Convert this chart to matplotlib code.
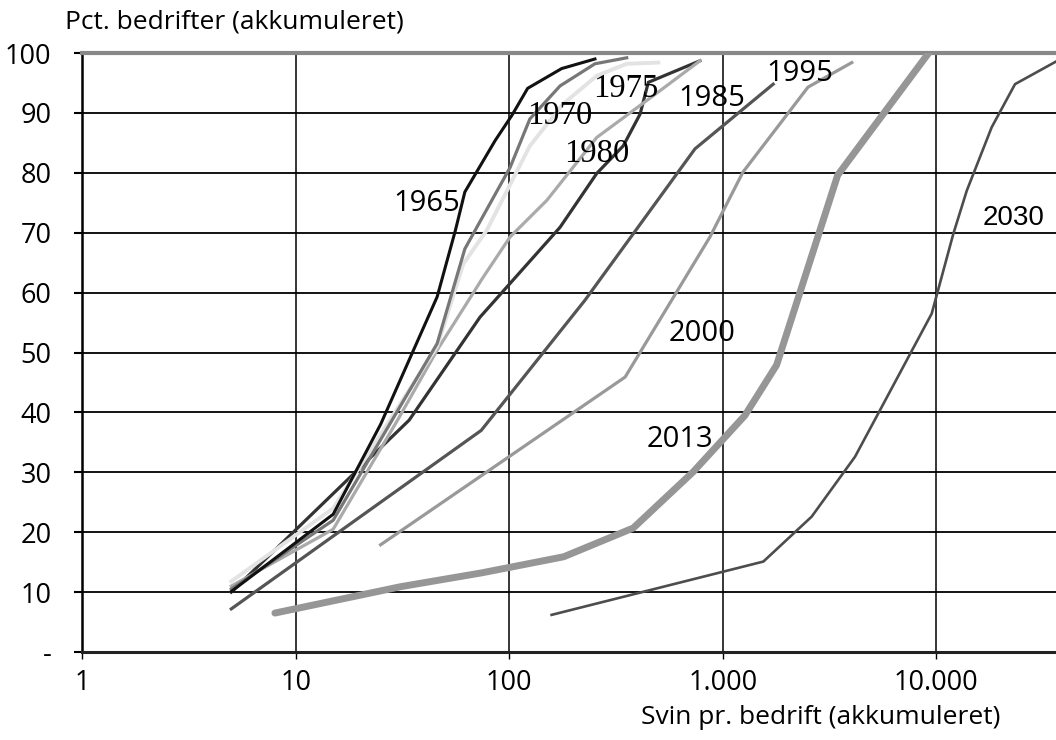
import matplotlib
matplotlib.use('Agg')
import matplotlib.pyplot as plt

# kurver: svin pr. bedrift (x) mod akkumuleret pct. bedrifter (y)
x_1965 = [5, 15, 25, 46, 56, 62, 86, 103, 122, 176, 252]
y_1965 = [10.1, 23, 38, 59.3, 70.4, 76.8, 85.4, 89.6, 94.1, 97.4, 99.0]

x_1970 = [5, 15, 46, 62, 101, 125, 173, 252, 355]
y_1970 = [10.5, 22, 51.5, 67.3, 80.9, 89, 94.5, 98.2, 99.2]

x_1975 = [5, 15, 46, 61, 78.5, 125, 179, 257, 355, 499]
y_1975 = [11.8, 24, 51, 64.8, 70.4, 84.5, 91.5, 96.2, 98.2, 98.4]

x_1980a = [5, 15, 30, 46, 75, 101, 150, 257, 508, 782]
y_1980a = [11, 20.5, 38.7, 50.4, 62.4, 69.3, 75.4, 85.9, 93.7, 98.7]

x_1980b = [5, 34, 73, 173, 257, 342, 410, 448, 782]
y_1980b = [10, 38.7, 55.9, 70.9, 79.9, 84.5, 89.8, 95.1, 98.7]

x_1985 = [5, 74, 226, 741, 1722]
y_1985 = [7.2, 37, 58.7, 84, 94.8]

x_2000 = [25, 349, 871, 1242, 2506, 4017]
y_2000 = [17.9, 45.9, 69.3, 80.1, 94.3, 98.4]

x_2013 = [8, 31, 74, 180, 381, 728, 1270, 1786, 3450, 9200]
y_2013 = [6.5, 10.9, 13.2, 15.9, 20.7, 30.1, 39.5, 47.9, 79.6, 100]

x_2030 = [158, 1549, 2607, 4160, 5450, 9510, 12000, 13870, 18150, 23340, 40000]
y_2030 = [6.2, 15.1, 22.6, 32.6, 40.4, 56.5, 69.8, 77, 87.6, 94.8, 99.4]

xticks = [1, 10, 100, 1000, 10000]
xtick_labels = ['1', '10', '100', '1.000', '10.000']
yticks = [0, 10, 20, 30, 40, 50, 60, 70, 80, 90, 100]
ytick_labels = ['-', '10', '20', '30', '40', '50', '60', '70', '80', '90', '100']

# etiketter: tekst, x, y, skrift
labels = [
    ('1965', 41, 74.9, 'sans'),
    ('1970', 173, 89.6, 'serif'),
    ('1975', 352, 94.0, 'serif'),
    ('1980', 258, 83.2, 'serif'),
    ('1985', 890, 92.4, 'sans'),
    ('1995', 2297, 96.5, 'sans'),
    ('2000', 800, 53.2, 'sans'),
    ('2013', 630, 35.4, 'sans'),
    ('2030', 23000, 72.4, 'arial'),
]

plt.rcParams['font.family'] = ['Open Sans', 'DejaVu Sans']

fig = plt.figure(figsize=(10.56, 7.4), dpi=100)
ax = fig.add_axes([82 / 1056, 1 - 652 / 740, 1 - 82 / 1056, (652 - 53) / 740])

ax.set_xscale('log')
ax.set_xlim(1, 10 ** 4.56)
ax.set_ylim(0, 100)

for y in yticks[1:-1]:
    ax.axhline(y, color='black', lw=1.3, zorder=1)
for x in xticks[1:]:
    ax.axvline(x, color='black', lw=1.1, zorder=1)

ax.plot(x_2030, y_2030, color='#4d4d4d', lw=1.9, zorder=3)
ax.plot(x_2013, y_2013, color='#969696', lw=5.0, solid_capstyle='round', zorder=3)
ax.plot(x_2000, y_2000, color='#999999', lw=2.3, zorder=3)
ax.plot(x_1985, y_1985, color='#555555', lw=2.3, zorder=3)
ax.plot(x_1980b, y_1980b, color='#333333', lw=2.3, zorder=3)
ax.plot(x_1980a, y_1980a, color='#aaaaaa', lw=2.3, zorder=3)
ax.plot(x_1975, y_1975, color='#e3e3e3', lw=2.8, zorder=3)
ax.plot(x_1970, y_1970, color='#777777', lw=2.3, zorder=3)
ax.plot(x_1965, y_1965, color='#111111', lw=2.2, zorder=3)

fonts = {'sans': ['Open Sans'], 'serif': ['Liberation Serif'], 'arial': ['Liberation Sans']}
sizes = {'sans': 21, 'serif': 23.5, 'arial': 20}
for txt, x, y, f in labels:
    ax.text(x, y, txt, family=fonts[f], fontsize=sizes[f], ha='center', va='center',
            color='black', zorder=4)

ax.set_xticks(xticks)
ax.set_xticklabels(xtick_labels)
ax.minorticks_off()
ax.set_yticks(yticks)
ax.set_yticklabels(ytick_labels)
ax.tick_params(axis='y', length=6, width=1.5, pad=16, labelsize=19.5, direction='out')
ax.tick_params(axis='x', length=5, width=1.0, pad=7, labelsize=19.5, direction='out')

ax.spines['right'].set_visible(False)
ax.spines['top'].set_color('#888888')
ax.spines['top'].set_linewidth(3)
ax.spines['left'].set_linewidth(1.8)
ax.spines['bottom'].set_linewidth(2.2)
ax.spines['bottom'].set_color('#222222')

fig.text(65 / 1056, 1 - 22 / 740, 'Pct. bedrifter (akkumuleret)', fontsize=19,
         ha='left', va='center')
fig.text(1000 / 1056, 1 - 718 / 740, 'Svin pr. bedrift (akkumuleret)', fontsize=19,
         ha='right', va='center')

fig.savefig('out.png', dpi=100)
